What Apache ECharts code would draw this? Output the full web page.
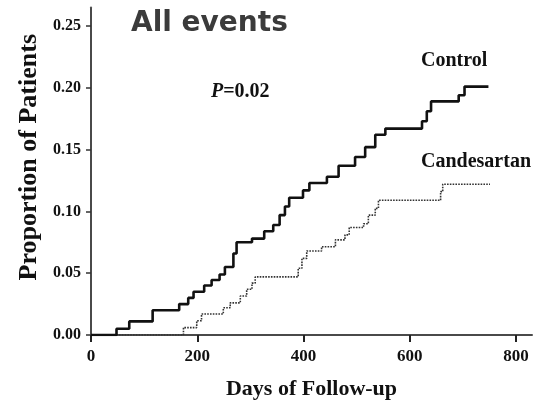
<!DOCTYPE html>
<html>
<head>
<meta charset="utf-8">
<script src="https://cdn.jsdelivr.net/npm/echarts@6/dist/echarts.min.js"></script>
<style>
html,body{margin:0;padding:0;background:#fff;}
#c{width:549px;height:407px;}
</style>
</head>
<body>
<div id="c"></div>
<script>
// Kaplan-Meier style cumulative event proportions
const controlDays   = [0, 48, 72, 116, 166, 183, 193, 213, 227, 242, 252, 268, 274, 303, 326, 343, 355, 365, 373, 399, 411, 444, 466, 497, 516, 535, 554, 623, 632, 640, 692, 703, 748];
const controlValues = [0, 0.005, 0.011, 0.020, 0.025, 0.030, 0.035, 0.040, 0.0445, 0.049, 0.055, 0.066, 0.075, 0.078, 0.084, 0.089, 0.097, 0.104, 0.111, 0.117, 0.123, 0.128, 0.137, 0.144, 0.152, 0.162, 0.167, 0.173, 0.181, 0.189, 0.194, 0.201, 0.201];
const candDays   = [0, 174, 199, 208, 249, 262, 281, 293, 303, 309, 390, 397, 406, 434, 460, 478, 486, 513, 522, 535, 541, 658, 662, 751];
const candValues = [0, 0.006, 0.0115, 0.017, 0.022, 0.026, 0.0315, 0.037, 0.042, 0.047, 0.054, 0.062, 0.068, 0.0714, 0.077, 0.081, 0.087, 0.090, 0.097, 0.1025, 0.109, 0.116, 0.122, 0.122];
const xTicks = [0, 200, 400, 600, 800];
const yTicks = [0, 0.05, 0.10, 0.15, 0.20, 0.25];
const seriesNames = ['Control', 'Candesartan'];
const titleText = 'All events';
const pText = '=0.02';

const chart = echarts.init(document.getElementById('c'), null, {renderer: 'canvas'});
const serif = '"Liberation Serif", "Times New Roman", serif';
const axisColor = '#4a4a4a';

chart.setOption({
  animation: false,
  backgroundColor: '#ffffff',
  grid: {left: 91, right: 17, top: 7.5, bottom: 72, containLabel: false, outerBoundsMode: 'none'},
  xAxis: {
    type: 'value', min: 0, max: 830, interval: 200,
    name: 'Days of Follow-up', nameLocation: 'middle', nameGap: 43,
    nameTextStyle: {fontFamily: serif, fontWeight: 'bold', fontSize: 22, color: '#111'},
    axisLine: {show: true, lineStyle: {color: axisColor, width: 2}},
    axisTick: {show: true, length: 7, lineStyle: {color: '#222', width: 2}, customValues: xTicks},
    axisLabel: {customValues: xTicks, fontFamily: serif, fontWeight: 'bold', fontSize: 17, color: '#111', margin: 13},
    splitLine: {show: false}
  },
  yAxis: {
    type: 'value', min: 0, max: 0.265, interval: 0.05,
    name: 'Proportion of Patients', nameLocation: 'middle', nameGap: 44, nameRotate: 90,
    nameTextStyle: {fontFamily: serif, fontWeight: 'bold', fontSize: 26, color: '#111', padding: [0, 0, 0, 28]},
    axisLine: {show: true, lineStyle: {color: axisColor, width: 2}},
    axisTick: {show: true, length: 5, lineStyle: {color: '#333', width: 1.5}, customValues: yTicks},
    axisLabel: {customValues: yTicks, fontFamily: serif, fontWeight: 'bold', fontSize: 16, color: '#111', margin: 10,
      formatter: v => Number(v).toFixed(2)},
    splitLine: {show: false}
  },
  series: [
    {
      name: seriesNames[0], type: 'line', step: 'end', showSymbol: false, symbol: 'none',
      data: controlDays.map((d, i) => [d, controlValues[i]]),
      lineStyle: {color: '#111', width: 2.6}, z: 3
    },
    {
      name: seriesNames[1], type: 'line', step: 'end', showSymbol: false, symbol: 'none',
      data: candDays.map((d, i) => [d, candValues[i]]),
      lineStyle: {color: '#333', width: 1.6, type: [1.6, 1.2]}, z: 2
    }
  ],
  graphic: [
    {type: 'text', left: 131, top: 10, style: {text: titleText, font: 'bold 28px "DejaVu Sans", Verdana, sans-serif', fill: '#3b3b3b'}},
    {type: 'text', left: 211, top: 82, style: {
      text: '{i|P}{n|' + pText + '}',
      rich: {
        i: {font: 'italic bold 20px ' + serif, fill: '#111'},
        n: {font: 'bold 20px ' + serif, fill: '#111'}
      }}},
    {type: 'text', left: 421, top: 51, style: {text: seriesNames[0], font: 'bold 20px ' + serif, fill: '#111'}},
    {type: 'text', left: 421, top: 152, style: {text: seriesNames[1], font: 'bold 20px ' + serif, fill: '#111'}}
  ]
});
</script>
</body>
</html>
